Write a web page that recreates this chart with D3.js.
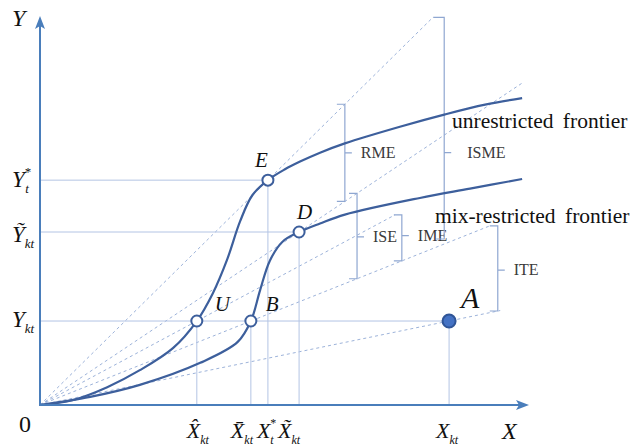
<!DOCTYPE html>
<html>
<head>
<meta charset="utf-8">
<script src="https://cdn.jsdelivr.net/npm/d3@7"></script>
<style>
  body { margin: 0; background: #fff; }
  svg text { font-family: "Liberation Serif", "Times New Roman", serif; }
  .axis-line { stroke: #4a7ebb; stroke-width: 2; fill: none; }
  .frontier { stroke: #3d5f9c; stroke-width: 2.2; fill: none; }
  .ray { stroke: #9db3da; stroke-width: 1; stroke-dasharray: 3,3; fill: none; }
  .guide { stroke: #b3c4e4; stroke-width: 1; fill: none; }
  .bracket { stroke: #8fa7d1; stroke-width: 1.2; fill: none; }
</style>
</head>
<body>
<svg width="634" height="448"></svg>
<script>
// chart coordinates: both axes run 0..100
var unrestricted = [
  [0, 0], [6.8, 1.3], [13.8, 4.6], [20.5, 9.0], [27.3, 14.7], [32.2, 21.7],
  [35.5, 28.9], [38.4, 37.5], [41.1, 47.5], [43.6, 54.2], [46.8, 58.1],
  [50.3, 60.9], [53.4, 62.9], [57.5, 65.2], [62.6, 67.6], [73.9, 71.9],
  [83.2, 75.1], [91.4, 77.6], [99.0, 79.3]
];
var mixRestricted = [
  [0, 0], [10.3, 2.1], [20.5, 5.2], [32.9, 10.9], [40.6, 16.3], [43.3, 21.7],
  [45.2, 29.7], [47.2, 37.3], [49.8, 42.2], [53.2, 44.7], [57.5, 46.9],
  [62.6, 49.2], [78.0, 53.5], [88.3, 55.9], [99.0, 58.4]
];
var points = [
  { name: 'E', x: 46.8, y: 58.1, filled: false },
  { name: 'D', x: 53.2, y: 44.7, filled: false },
  { name: 'U', x: 32.2, y: 21.7, filled: false },
  { name: 'B', x: 43.3, y: 21.7, filled: false },
  { name: 'A', x: 84.0, y: 21.7, filled: true }
];
// rays from the origin through a point, up to an end x
var rays = [
  { through: 'E', end: 80.7 },
  { through: 'U', end: 72.9 },
  { through: 'D', end: 99.0 },
  { through: 'B', end: 92.4 },
  { through: 'A', end: 94.5 }
];
// brackets between two rays; tick = where the side tick sits (0 top .. 1 bottom)
var brackets = [
  { label: 'RME', x: 62.6, from: 'E', to: 'D', tick: 0.5 },
  { label: 'ISE', x: 65.1, from: 'D', to: 'B', tick: 0.51 },
  { label: 'IME', x: 74.3, from: 'U', to: 'B', tick: 0.45 },
  { label: 'ISME', x: 83.0, from: 'E', to: 'B', tick: 0.61 },
  { label: 'ITE', x: 94.0, from: 'B', to: 'A', tick: 0.52 }
];
var xTicks = [
  { at: 'U', base: 'X\u0302', sub: 'kt', sup: '' },
  { at: 'B', base: 'X\u0304', sub: 'kt', sup: '' },
  { at: 'E', base: 'X', sub: 't', sup: '*' },
  { at: 'D', base: 'X\u0303', sub: 'kt', sup: '' },
  { at: 'A', base: 'X', sub: 'kt', sup: '' }
];
var yTicks = [
  { at: 'E', base: 'Y', sub: 't', sup: '*' },
  { at: 'D', base: 'Y\u0303', sub: 'kt', sup: '' },
  { at: 'U', base: 'Y', sub: 'kt', sup: '' }
];
var frontierLabels = ['unrestricted frontier', 'mix-restricted frontier'];

var svg = d3.select('svg');
var x = d3.scaleLinear().domain([0, 100]).range([40, 527]);
var y = d3.scaleLinear().domain([0, 100]).range([405, 18]);

var byName = {};
points.forEach(function(p) { byName[p.name] = p; });

function rayY(name, xv) {
  var p = byName[name];
  var r = rays.filter(function(d) { return d.through === name; })[0];
  return p.y / p.x * Math.min(xv, r.end);
}

// dashed rays
svg.append('g').selectAll('line')
  .data(rays).enter().append('line')
  .attr('class', 'ray')
  .attr('x1', x(0)).attr('y1', y(0))
  .attr('x2', function(d) { return x(d.end); })
  .attr('y2', function(d) { return y(rayY(d.through, d.end)); });

// guides to the axes
var guides = svg.append('g');
['E', 'D'].forEach(function(n) {
  var p = byName[n];
  guides.append('line').attr('class', 'guide')
    .attr('x1', x(0)).attr('x2', x(p.x)).attr('y1', y(p.y)).attr('y2', y(p.y));
});
guides.append('line').attr('class', 'guide')
  .attr('x1', x(0)).attr('x2', x(byName.A.x))
  .attr('y1', y(byName.A.y)).attr('y2', y(byName.A.y));
points.forEach(function(p) {
  guides.append('line').attr('class', 'guide')
    .attr('x1', x(p.x)).attr('x2', x(p.x)).attr('y1', y(p.y)).attr('y2', y(0));
});

// brackets
var bg = svg.append('g');
brackets.forEach(function(b) {
  var bx = x(b.x);
  var top = y(rayY(b.from, b.x));
  var bot = y(rayY(b.to, b.x));
  if (b.label === 'ISME') bot -= 5;
  var mid = top + (bot - top) * b.tick;
  var arm = b.label === 'ISME' ? 11 : 8;
  bg.append('path').attr('class', 'bracket')
    .attr('d', 'M' + (bx - arm) + ',' + top + 'H' + bx + 'V' + bot + 'H' + (bx - 8)
      + 'M' + bx + ',' + mid + 'h7');
  bg.append('text')
    .attr('x', bx + (b.label === 'ISME' ? 23 : 16))
    .attr('y', mid + 5)
    .attr('font-size', 16).attr('fill', '#3a3a3a')
    .text(b.label);
});

// frontiers
var line = d3.line()
  .x(function(d) { return x(d[0]); })
  .y(function(d) { return y(d[1]); })
  .curve(d3.curveCatmullRom.alpha(0.5));
svg.append('path').datum(unrestricted).attr('class', 'frontier').attr('d', line);
svg.append('path').datum(mixRestricted).attr('class', 'frontier').attr('d', line);

svg.append('text').attr('x', 452).attr('y', 128).attr('font-size', 21.5)
  .attr('word-spacing', 4).attr('fill', '#111').text(frontierLabels[0]);
svg.append('text').attr('x', 435).attr('y', 223).attr('font-size', 21.5)
  .attr('word-spacing', 4).attr('fill', '#111').text(frontierLabels[1]);

// axes with arrow heads
svg.append('line').attr('class', 'axis-line')
  .attr('x1', x(0)).attr('y1', y(0)).attr('x2', x(0)).attr('y2', y(100) + 4);
svg.append('line').attr('class', 'axis-line')
  .attr('x1', x(0) - 1).attr('y1', y(0)).attr('x2', x(100) - 4).attr('y2', y(0));
svg.append('path').attr('fill', '#4a7ebb')
  .attr('d', 'M' + x(0) + ',' + (y(100) - 2) + 'l-5,13 l5,-3 l5,3z');
svg.append('path').attr('fill', '#4a7ebb')
  .attr('d', 'M' + (x(100) + 2) + ',' + y(0) + 'l-13,-5 l3,5 l-3,5z');

// points
svg.append('g').selectAll('circle')
  .data(points).enter().append('circle')
  .attr('cx', function(d) { return x(d.x); })
  .attr('cy', function(d) { return y(d.y); })
  .attr('r', function(d) { return d.filled ? 6.5 : 5.5; })
  .attr('fill', function(d) { return d.filled ? '#4472c4' : '#fff'; })
  .attr('stroke', function(d) { return d.filled ? '#2f5597' : '#3d5f9c'; })
  .attr('stroke-width', 2);

var pointLabelOffset = { E: [-13, -13], D: [-2, -13], U: [18, -10], B: [15, -10], A: [12, -13] };
points.forEach(function(p) {
  var o = pointLabelOffset[p.name];
  svg.append('text')
    .attr('x', x(p.x) + o[0]).attr('y', y(p.y) + o[1])
    .attr('font-size', p.name === 'A' ? 30 : 21)
    .attr('font-style', 'italic').attr('fill', '#111')
    .text(p.name);
});

function mathLabel(sel, t, fs, subFs) {
  sel.append('tspan').attr('font-style', 'italic').attr('font-size', fs).text(t.base);
  if (t.sup) {
    sel.append('tspan').attr('font-size', subFs).attr('dy', -11).text(t.sup);
    sel.append('tspan').attr('font-style', 'italic').attr('font-size', subFs)
      .attr('dx', -6).attr('dy', 17).text(t.sub);
  } else {
    sel.append('tspan').attr('font-style', 'italic').attr('font-size', subFs)
      .attr('dy', 6).text(t.sub);
  }
}

var xTickDx = [-10, -20, -11, -21, -13];
xTicks.forEach(function(t, i) {
  var sel = svg.append('text').attr('x', x(byName[t.at].x) + xTickDx[i]).attr('y', 438)
    .attr('fill', '#111');
  mathLabel(sel, t, 22, 12);
});

var yTickDy = [7, 10, 6];
yTicks.forEach(function(t, i) {
  var sel = svg.append('text').attr('x', 12).attr('y', y(byName[t.at].y) + yTickDy[i])
    .attr('fill', '#111');
  mathLabel(sel, t, 23, 13);
});

svg.append('text').attr('x', 12).attr('y', 26).attr('font-size', 24)
  .attr('font-style', 'italic').attr('fill', '#111').text('Y');
svg.append('text').attr('x', 502).attr('y', 439).attr('font-size', 24)
  .attr('font-style', 'italic').attr('fill', '#111').text('X');
svg.append('text').attr('x', 19).attr('y', 432).attr('font-size', 24)
  .attr('fill', '#111').text('0');
</script>
</body>
</html>
